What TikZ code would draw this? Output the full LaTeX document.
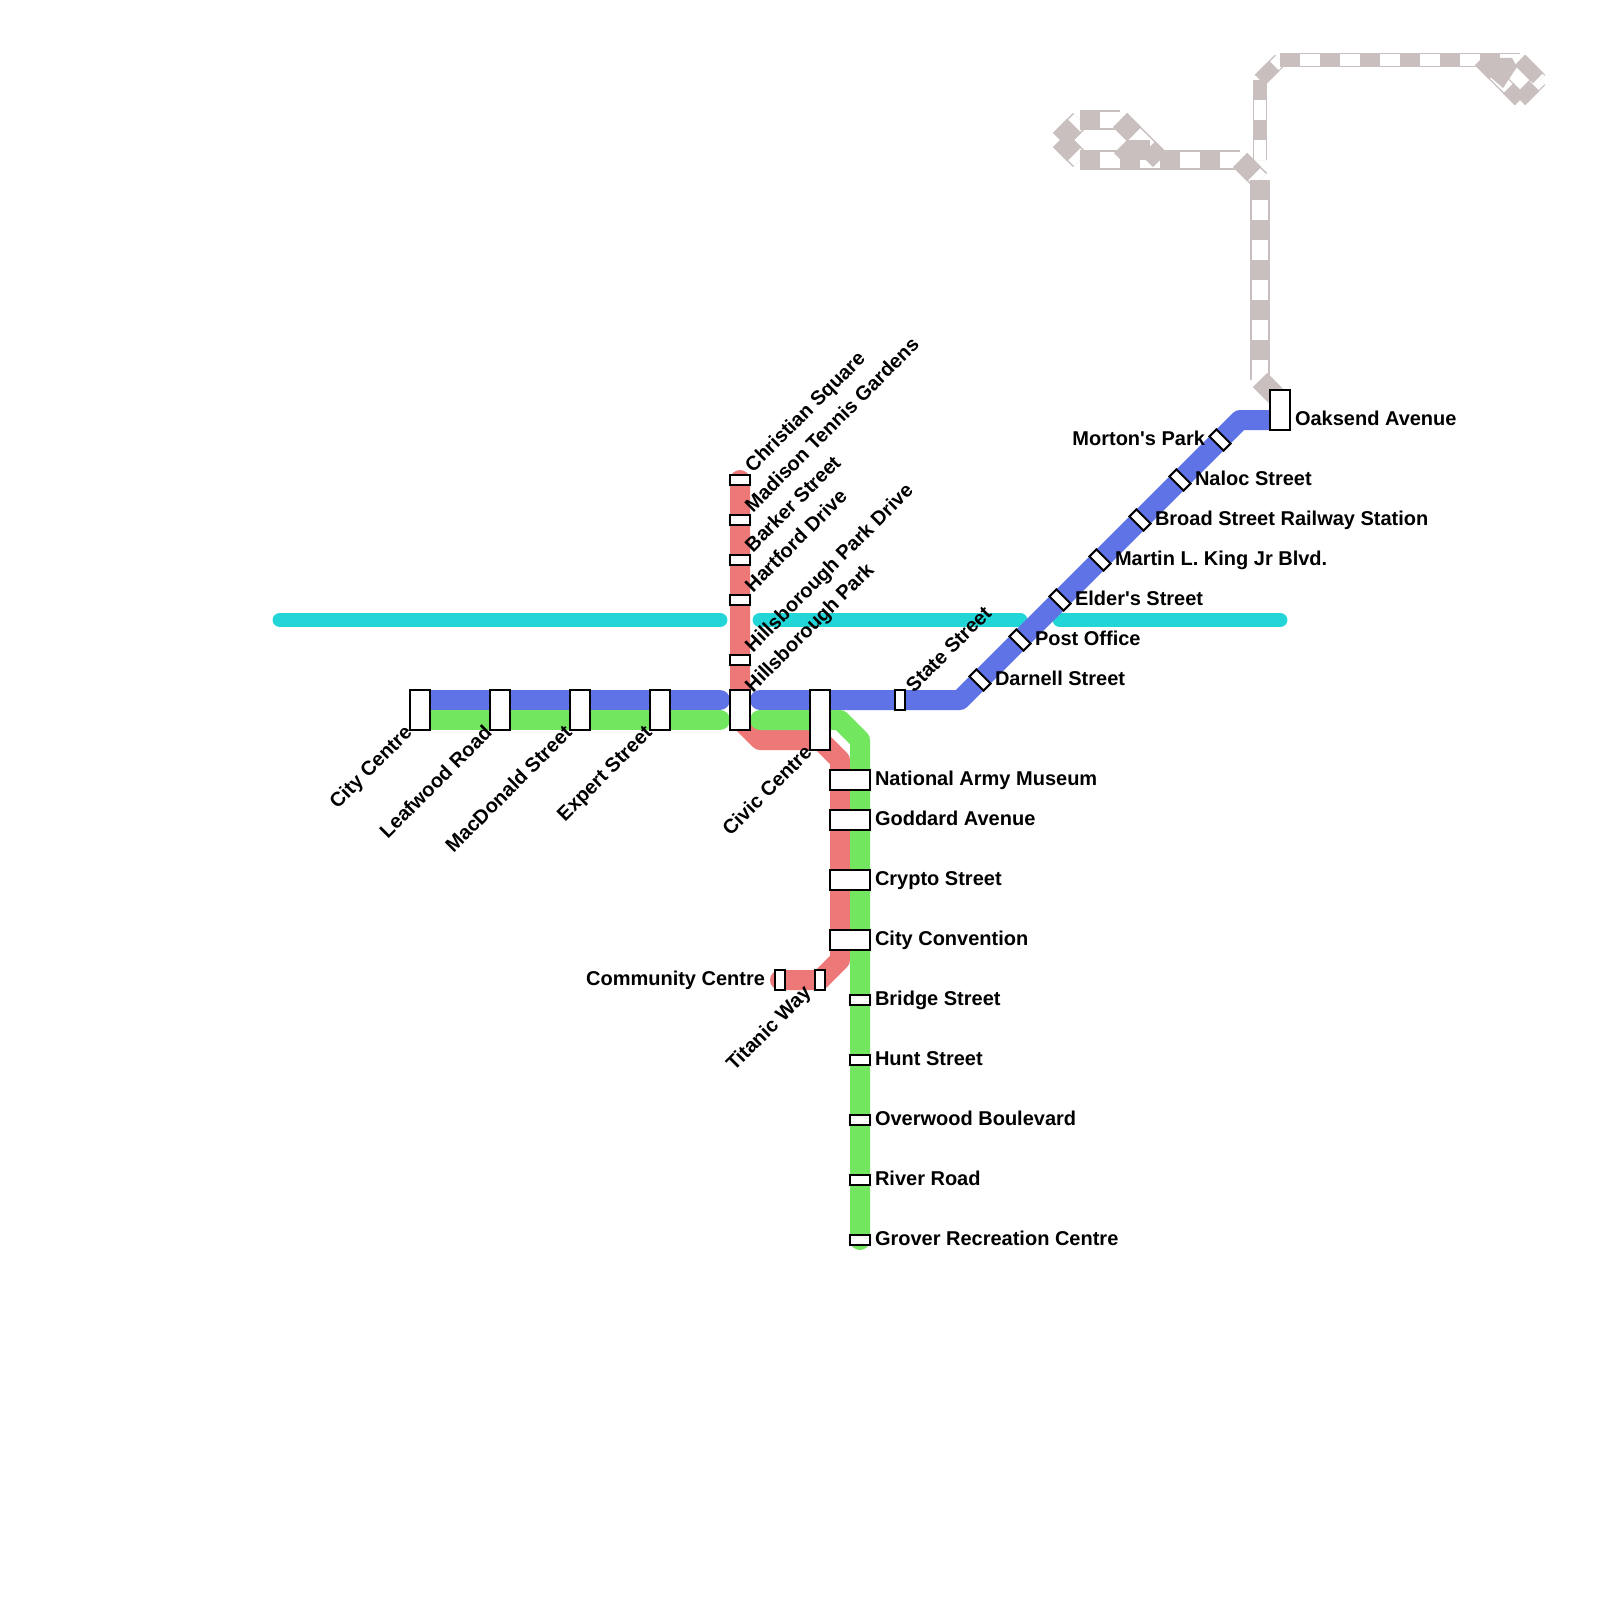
\documentclass[tikz,border=0pt]{standalone}
\usepackage{fontspec}
\newfontfamily\mapfont{Liberation Sans}
\usetikzlibrary{positioning}
\definecolor{cyanline}{HTML}{22D6D8}
\definecolor{blueline}{HTML}{5F73E6}
\definecolor{greenline}{HTML}{71E65E}
\definecolor{redline}{HTML}{EE7777}
\definecolor{greyline}{HTML}{C9BFBF}
\pgfdeclarelayer{lines}
\pgfsetlayers{lines,main}
\tikzset{
  metro/.style    = {line width=10pt, line join=round, line cap=round},
  cyanrun/.style  = {line width=7.4pt, line cap=round, draw=cyanline},
  railbed/.style  = {draw=greyline},
  railgap/.style  = {draw=white},
  railtie/.style  = {draw=greyline, dash pattern=on 10pt off 10pt},
  railblk/.style  = {draw=greyline},
  sta/.style      = {draw=black, fill=white, line width=1pt, inner sep=0pt, outer sep=0pt},
  stab/.style     = {sta, minimum width=10pt, minimum height=20pt},
  stac/.style     = {sta, minimum width=10pt, minimum height=30pt},
  stah/.style     = {sta, minimum width=20pt, minimum height=10pt},
  stal/.style     = {sta, minimum width=10pt, minimum height=5pt},
  stan/.style     = {sta, minimum width=5pt, minimum height=10pt},
  stad/.style     = {sta, minimum width=10pt, minimum height=5pt, rotate=-45},
  lab/.style      = {font=\mapfont\bfseries\fontsize{10pt}{12pt}\selectfont, inner sep=0pt, outer sep=0pt,
                     text height=7.2pt, text depth=0pt},
  lr/.style       = {lab, yshift=1pt},
  uplab/.style    = {lab, shift={(-1pt,3.5pt)}, rotate=45, anchor=west},
  dnlab/.style    = {lab, shift={(-1pt,0.5pt)}, rotate=45, anchor=east},
}
\newcommand{\widesegs}[2]{
  \draw[#1, line width=#2] (1080,120) -- (1120,120);
  \draw[#1, line width=#2] (1060,140) -- (1080,120);
  \draw[#1, line width=#2] (1060,140) -- (1080,160);
  \draw[#1, line width=#2] (1120,120) -- (1160,160);
  \draw[#1, line width=#2] (1080,160) -- (1240,160);
  \draw[#1, line width=#2] (1240,160) -- (1260,180);
  \draw[#1, line width=#2] (1260,180) -- (1260,380);
  \draw[#1, line width=#2] (1260,380) -- (1280,400);
}
\newcommand{\narrowsegs}[2]{
  \draw[#1, line width=#2] (1260,80) -- (1260,160);
  \draw[#1, line width=#2] (1260,80) -- (1280,60);
  \draw[#1, line width=#2] (1280,60) -- (1520,60);
  \draw[#1, line width=#2] (1480,60) -- (1520,100);
  \draw[#1, line width=#2] (1520,100) -- (1540,80);
  \draw[#1, line width=#2] (1520,60) -- (1540,80);
}
\begin{document}
\begin{tikzpicture}[x=0.5pt, y=-0.5pt]
  \useasboundingbox (0,0) rectangle (1600,1600);

  % --- stations first, the lines run between them ---
  \node[stab] (citycentre) at (420,710) {};
  \node[stab] (leafwood)   at (500,710) {};
  \node[stab] (macdonald)  at (580,710) {};
  \node[stab] (expert)     at (660,710) {};
  \node[stab] (hbpark)     at (740,710) {};
  \node[stac] (civic)      at (820,720) {};
  \node[stan] (statest)    at (900,700) {};
  \node[stad] (darnell)    at (980,680) {};
  \node[stad] (postoffice) at (1020,640) {};
  \node[stad] (elders)     at (1060,600) {};
  \node[stad] (martin)     at (1100,560) {};
  \node[stad] (broad)      at (1140,520) {};
  \node[stad] (naloc)      at (1180,480) {};
  \node[stad] (morton)     at (1220,440) {};
  \node[stab] (oaksend)    at (1280,410) {};
  \node[stal] (christian)  at (740,480) {};
  \node[stal] (madison)    at (740,520) {};
  \node[stal] (barker)     at (740,560) {};
  \node[stal] (hartford)   at (740,600) {};
  \node[stal] (hbdrive)    at (740,660) {};
  \node[stah] (army)       at (850,780) {};
  \node[stah] (goddard)    at (850,820) {};
  \node[stah] (crypto)     at (850,880) {};
  \node[stah] (convention) at (850,940) {};
  \node[stal] (bridge)     at (860,1000) {};
  \node[stal] (hunt)       at (860,1060) {};
  \node[stal] (overwood)   at (860,1120) {};
  \node[stal] (river)      at (860,1180) {};
  \node[stal] (grover)     at (860,1240) {};
  \node[stan] (community)  at (780,980) {};
  \node[stan] (titanic)    at (820,980) {};

  % --- turning points ---
  \coordinate (blueturn) at (960,700);
  \coordinate (bluetop)  at (1240,420);
  \coordinate (blueend)  at (1280,420);
  \coordinate (redA) at (740,720);
  \coordinate (redB) at (760,740);
  \coordinate (redC) at (820,740);
  \coordinate (redD) at (840,760);
  \coordinate (redE) at (840,960);
  \coordinate (greenA) at (840,720);
  \coordinate (greenB) at (860,740);
  \coordinate (greenW) at (420,720);
  \coordinate (greenE) at (720,720);
  \coordinate (greenS) at (760,720);
  \coordinate (blueW)  at (420,700);
  \coordinate (blueE)  at (720,700);
  \coordinate (blueS)  at (760,700);
  \coordinate (cyanA) at (280,620);
  \coordinate (cyanB) at (720,620);
  \coordinate (cyanC) at (760,620);
  \coordinate (cyanD) at (1020,620);
  \coordinate (cyanE) at (1060,620);
  \coordinate (cyanF) at (1280,620);

  \begin{pgfonlayer}{lines}
  \draw[cyanrun] (cyanA) -- (cyanB);
  \draw[cyanrun] (cyanC) -- (cyanD);
  \draw[cyanrun] (cyanE) -- (cyanF);

  % --- grey dashed branches ---
  \widesegs{railbed}{10pt}
  \narrowsegs{railbed}{7.4pt}
  \widesegs{railgap}{8.4pt}
  \narrowsegs{railgap}{6pt}
  \widesegs{railtie}{10pt}
  \narrowsegs{railtie}{7.4pt}
  \draw[railblk, line width=10pt] (1121,146) -- (1135,160);
  \draw[railblk, line width=10pt] (1130,150) -- (1150,150);
  \fill[greyline] (1500,58) -- (1512,58) -- (1517,67) -- (1503,88) -- (1488,75) -- cycle;
  \draw[railblk, line width=7.4pt] (1520,60) -- (1538,78);

  \draw[metro, draw=redline] (christian.center) -- (redA) -- (redB) -- (redC) -- (redD)
    -- (redE) -- (titanic.center) -- (community.center);
  \draw[metro, draw=blueline] (blueW) -- (blueE);
  \draw[metro, draw=blueline] (blueS) -- (blueturn) -- (bluetop) -- (blueend);
  \draw[metro, draw=greenline] (greenW) -- (greenE);
  \draw[metro, draw=greenline] (greenS) -- (greenA) -- (greenB) -- (grover.center);
  \end{pgfonlayer}

  % --- labels ---
  \node[dnlab] (citycentrelab) at (citycentre.south west) {City Centre};
  \node[dnlab] (leafwoodlab)   at (leafwood.south west)   {Leafwood Road};
  \node[dnlab] (macdonaldlab)  at (macdonald.south west)  {MacDonald Street};
  \node[dnlab] (expertlab)     at (expert.south west)     {Expert Street};
  \node[dnlab] (civiclab)      at (civic.south west)      {Civic Centre};
  \node[xshift=-3pt, dnlab] (titaniclab) at (titanic.south west) {Titanic Way};
  \node[yshift=-2.5pt, uplab] (hbparklab) at (hbpark.north east) {Hillsborough Park};
  \node[uplab] (hbdrivelab)    at (hbdrive.north east)    {Hillsborough Park Drive};
  \node[uplab] (hartfordlab)   at (hartford.north east)   {Hartford Drive};
  \node[uplab] (barkerlab)     at (barker.north east)     {Barker Street};
  \node[uplab] (madisonlab)    at (madison.north east)    {Madison Tennis Gardens};
  \node[uplab] (christianlab)  at (christian.north east)  {Christian Square};
  \node[xshift=3pt, yshift=-2.5pt, uplab] (statestlab) at (statest.north east) {State Street};
  \node[lr, right=7.5pt of darnell.center]    (darnelllab)  {Darnell Street};
  \node[lr, right=7.5pt of postoffice.center] (postlab)     {Post Office};
  \node[lr, right=7.5pt of elders.center]     (elderslab)   {Elder's Street};
  \node[lr, right=7.5pt of martin.center]     (martinlab)   {Martin L. King Jr Blvd.};
  \node[lr, right=7.5pt of broad.center]      (broadlab)    {Broad Street Railway Station};
  \node[lr, right=7.5pt of naloc.center]      (naloclab)    {Naloc Street};
  \node[lab, left=7.5pt of morton.center, yshift=1pt] (mortonlab) {Morton's Park};
  \node[lr, right=2.5pt of oaksend.east, yshift=-5pt] (oaksendlab) {Oaksend Avenue};
  \node[lr, right=2.5pt of army]       (armylab)       {National Army Museum};
  \node[lr, right=2.5pt of goddard]    (goddardlab)    {Goddard Avenue};
  \node[lr, right=2.5pt of crypto]     (cryptolab)     {Crypto Street};
  \node[lr, right=2.5pt of convention] (conventionlab) {City Convention};
  \node[lr, right=2.5pt of bridge]     (bridgelab)     {Bridge Street};
  \node[lr, right=2.5pt of hunt]       (huntlab)       {Hunt Street};
  \node[lr, right=2.5pt of overwood]   (overwoodlab)   {Overwood Boulevard};
  \node[lr, right=2.5pt of river]      (riverlab)      {River Road};
  \node[lr, right=2.5pt of grover]     (groverlab)     {Grover Recreation Centre};
  \node[lab, left=5pt of community, yshift=1pt] (communitylab) {Community Centre};
\end{tikzpicture}
\end{document}
